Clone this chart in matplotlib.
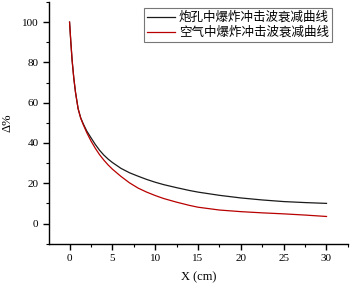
import matplotlib
matplotlib.use('Agg')
import matplotlib.pyplot as plt
from matplotlib.ticker import MultipleLocator

# values
x_vals = [0, 0.15, 0.3, 0.5, 0.7, 1.0, 1.3, 1.6, 2.0, 2.5, 3.0, 3.5, 4.0, 4.5, 5.0, 6.0, 7.0,
          8.0, 9.0, 10, 11, 12.5, 14, 15, 17.5, 20, 22.5, 25, 27.5, 30]
hole_vals = [100, 90, 81, 72, 65, 57, 52.5, 49.5, 46, 42.6, 39.3, 36.4, 34.0, 32.0, 30.3, 27.4, 25.2,
             23.5, 21.9, 20.5, 19.3, 17.8, 16.4, 15.6, 14.0, 12.7, 11.7, 10.9, 10.4, 10.0]
air_vals = [100, 90, 81, 72, 65, 57, 52.3, 49.1, 45.2, 41.0, 37.4, 34.2, 31.5, 29.1, 27.0, 23.4, 20.2,
            17.6, 15.6, 13.9, 12.4, 10.6, 9.0, 8.1, 6.7, 5.9, 5.3, 4.8, 4.2, 3.5]
labels = ['炮孔中爆炸冲击波衰减曲线', '空气中爆炸冲击波衰减曲线']

fig = plt.figure(figsize=(3.5, 2.83), dpi=100)
ax = fig.add_axes([0.14, 0.139, 0.854, 0.854])

ax.plot(x_vals, hole_vals, color='#1a1a1a', lw=0.9, label=labels[0])
ax.plot(x_vals, air_vals, color='#b80000', lw=0.9, label=labels[1])

ax.set_xlim(-2.4, 32.5)
ax.set_ylim(-10, 110)
ax.xaxis.set_minor_locator(MultipleLocator(2.5))
ax.yaxis.set_minor_locator(MultipleLocator(10))
ax.set_xticks([0, 5, 10, 15, 20, 25, 30])
ax.set_yticks([0, 20, 40, 60, 80, 100])

for s in ['top', 'right']:
    ax.spines[s].set_visible(False)
for s in ['left', 'bottom']:
    ax.spines[s].set_linewidth(1.0)

ax.tick_params(which='major', direction='out', length=4, width=1,
               labelsize=8)
ax.tick_params(which='minor', direction='out', length=2.5, width=0.8)
for t in ax.get_xticklabels() + ax.get_yticklabels():
    t.set_fontfamily('Liberation Serif')

ax.set_xlabel('X (cm)', fontfamily='Liberation Serif', fontsize=9, labelpad=6)
ax.set_ylabel('Δ%', fontfamily='Liberation Serif', fontsize=9, labelpad=6)

leg = ax.legend(loc='upper right', bbox_to_anchor=(0.946, 0.975), borderaxespad=0,
                prop={'family': ['Noto Sans CJK SC', 'DejaVu Sans'], 'size': 9},
                frameon=True, fancybox=False, handlelength=2.2, handletextpad=0.3,
                borderpad=0.25, labelspacing=0.15)
leg.get_frame().set_edgecolor('#555555')
leg.get_frame().set_linewidth(0.8)

fig.savefig('out.png', dpi=100)
